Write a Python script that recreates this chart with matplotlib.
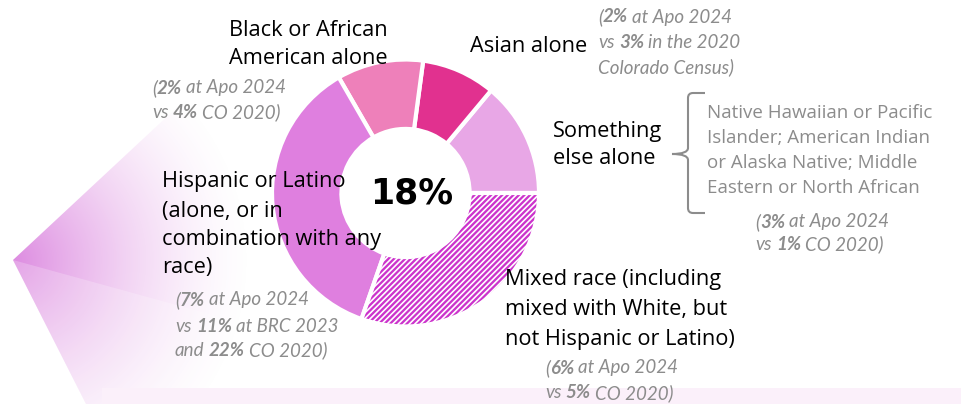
import numpy as np
import matplotlib
matplotlib.use("Agg")
import matplotlib.pyplot as plt
from matplotlib.patches import Polygon, Rectangle, PathPatch
from matplotlib.path import Path

# ---------------- data ----------------
categories = ["Something else alone", "Asian alone", "Black or African American alone",
              "Hispanic or Latino", "Mixed race"]
# shares of the ring (percent of respondents, as drawn)
shares = [2.8, 1.8, 2.1, 7.3, 6.1]
colors = ["#E8A7E6", "#E1318F", "#EE80BA", "#DF7FDF", "#CC33CC"]
hatches = [None, None, None, None, "//////"]
center_label = "18%"

W, H = 961, 404
plt.rcParams["hatch.linewidth"] = 1.2
fig = plt.figure(figsize=(W / 100, H / 100), dpi=100)
ax = fig.add_axes([0, 0, 1, 1])


def Y(y):
    return H - y


# ---------------- background decorations ----------------
gx, gy = np.meshgrid(np.arange(W) + 0.5, np.arange(H) + 0.5)
vx, vy = 13, 260
d = np.hypot(gx - vx, gy - vy)
alpha = np.clip(1 - d / 240.0, 0, 1) ** 1.5 * 0.9
img = np.zeros((H, W, 4))
img[..., 0] = 0xD9 / 255
img[..., 1] = 0x7E / 255
img[..., 2] = 0xDD / 255
img[..., 3] = alpha
im = ax.imshow(img, extent=(0, W, 0, H), origin="upper", zorder=0, interpolation="bilinear")
fan = Polygon([(vx, Y(vy)), (260, Y(30)), (700, Y(404)), (86, Y(404))],
              closed=True, transform=ax.transData, facecolor="none", edgecolor="none")
ax.add_patch(fan)
im.set_clip_path(fan)
facet = Polygon([(vx, Y(vy)), (340, Y(350)), (230, Y(404)), (86, Y(404))], closed=True,
                facecolor="white", edgecolor="none", alpha=0.22, zorder=0.5)
ax.add_patch(facet)

# bottom band
ax.add_patch(Rectangle((102, 0), W - 102, Y(388), facecolor="#FBF0FA", edgecolor="none", zorder=0.6))

# ---------------- donut ----------------
cx, cy, R = 405.5, Y(193), 133.5
wedges, _ = ax.pie(shares, colors=colors, startangle=0, counterclock=True,
                   center=(cx, cy), radius=R, frame=True,
                   wedgeprops=dict(width=R * 0.52, edgecolor="white", linewidth=3))
for w, h in zip(wedges, hatches):
    w.set_zorder(2)
    if h:
        w.set_hatch(h)
ax.set_xlim(0, W)
ax.set_ylim(0, H)
ax.set_aspect("equal")
ax.axis("off")

ax.text(412, Y(193), center_label, ha="center", va="center", fontsize=25,
        fontweight="bold", color="black", family="DejaVu Sans", zorder=3)

# ---------------- text helpers ----------------
LABEL_FONT = "Open Sans"
GREY_FONT = "Lato"
GREY = "#8C8C8C"
renderer = fig.canvas.get_renderer()


def label(x, ys, lines, size=15.7, ha="left"):
    for y, s in zip(ys, lines):
        ax.text(x, Y(y), s, ha=ha, va="center", fontsize=size, color="black",
                family=LABEL_FONT, zorder=4)


space_cache = {}


def space_width(size, weight):
    key = (size, weight)
    if key not in space_cache:
        a = ax.text(0, 0, "x x", fontsize=size, fontweight=weight, style="italic", family=GREY_FONT)
        b = ax.text(0, 0, "xx", fontsize=size, fontweight=weight, style="italic", family=GREY_FONT)
        space_cache[key] = a.get_window_extent(renderer).width - b.get_window_extent(renderer).width
        a.remove()
        b.remove()
    return space_cache[key]


def rich(x, y, parts, size=13.5):
    cur = x
    for txt, wt in parts:
        lead = len(txt) - len(txt.lstrip(" "))
        cur += lead * space_width(size, wt)
        s = txt.strip(" ")
        t = ax.text(cur, Y(y), s, ha="left", va="center", fontsize=size, fontweight=wt,
                    style="italic", color=GREY, family=GREY_FONT, zorder=4)
        cur += t.get_window_extent(renderer).width
        trail = len(txt) - len(txt.rstrip(" "))
        cur += trail * space_width(size, wt)


N, B = "normal", "bold"

# Black or African American
label(308, [30, 58], ["Black or African", "American alone"], ha="center")
rich(152, 88, [("(", N), ("2%", B), (" at Apo 2024", N)])
rich(152, 112, [("vs ", N), ("4%", B), (" CO 2020)", N)])

# Asian
label(470, [46], ["Asian alone"])
rich(598, 17, [("(", N), ("2%", B), (" at Apo 2024", N)])
rich(598, 42, [("vs ", N), ("3%", B), (" in the 2020", N)])
rich(598, 67, [("Colorado Census)", N)])

# Something else
label(553, [131, 159], ["Something", "else alone"])
bx0, bx1, by0, by1, bym = 688, 705, 93, 213, 154
r = 5
verts = [(bx1, Y(by0)), (bx0 + r, Y(by0)), (bx0, Y(by0)), (bx0, Y(by0 + r)),
         (bx0, Y(bym - 6)), (bx0, Y(bym)), (bx0 - 16, Y(bym)),
         (bx0, Y(bym)), (bx0, Y(bym + 6)),
         (bx0, Y(by1 - r)), (bx0, Y(by1)), (bx0 + r, Y(by1)), (bx1, Y(by1))]
codes = [Path.MOVETO, Path.LINETO, Path.CURVE3, Path.CURVE3,
         Path.LINETO, Path.CURVE3, Path.CURVE3,
         Path.CURVE3, Path.CURVE3,
         Path.LINETO, Path.CURVE3, Path.CURVE3, Path.LINETO]
ax.add_patch(PathPatch(Path(verts, codes), facecolor="none", edgecolor="#8C8C8C", lw=1.5, zorder=4))
for y, s in zip([113, 138, 163, 188], ["Native Hawaiian or Pacific", "Islander; American Indian",
                                       "or Alaska Native; Middle", "Eastern or North African"]):
    ax.text(707, Y(y), s, ha="left", va="center", fontsize=13.5, color=GREY,
            family=LABEL_FONT, zorder=4)
rich(755, 222, [("(", N), ("3%", B), (" at Apo 2024", N)])
rich(755, 244, [("vs ", N), ("1%", B), (" CO 2020)", N)])

# Hispanic
label(162, [182, 211, 240, 268], ["Hispanic or Latino", "(alone, or in",
                                  "combination with any", "race)"])
rich(175, 300, [("(", N), ("7%", B), (" at Apo 2024", N)])
rich(175, 326, [("vs ", N), ("11%", B), (" at BRC 2023", N)])
rich(175, 350, [("and ", N), ("22%", B), (" CO 2020)", N)])

# Mixed race
label(505, [280, 310, 339], ["Mixed race (including", "mixed with White, but",
                             "not Hispanic or Latino)"])
rich(545, 368, [("(", N), ("6%", B), (" at Apo 2024", N)])
rich(545, 393, [("vs ", N), ("5%", B), (" CO 2020)", N)])

fig.savefig("out.png", dpi=100)
